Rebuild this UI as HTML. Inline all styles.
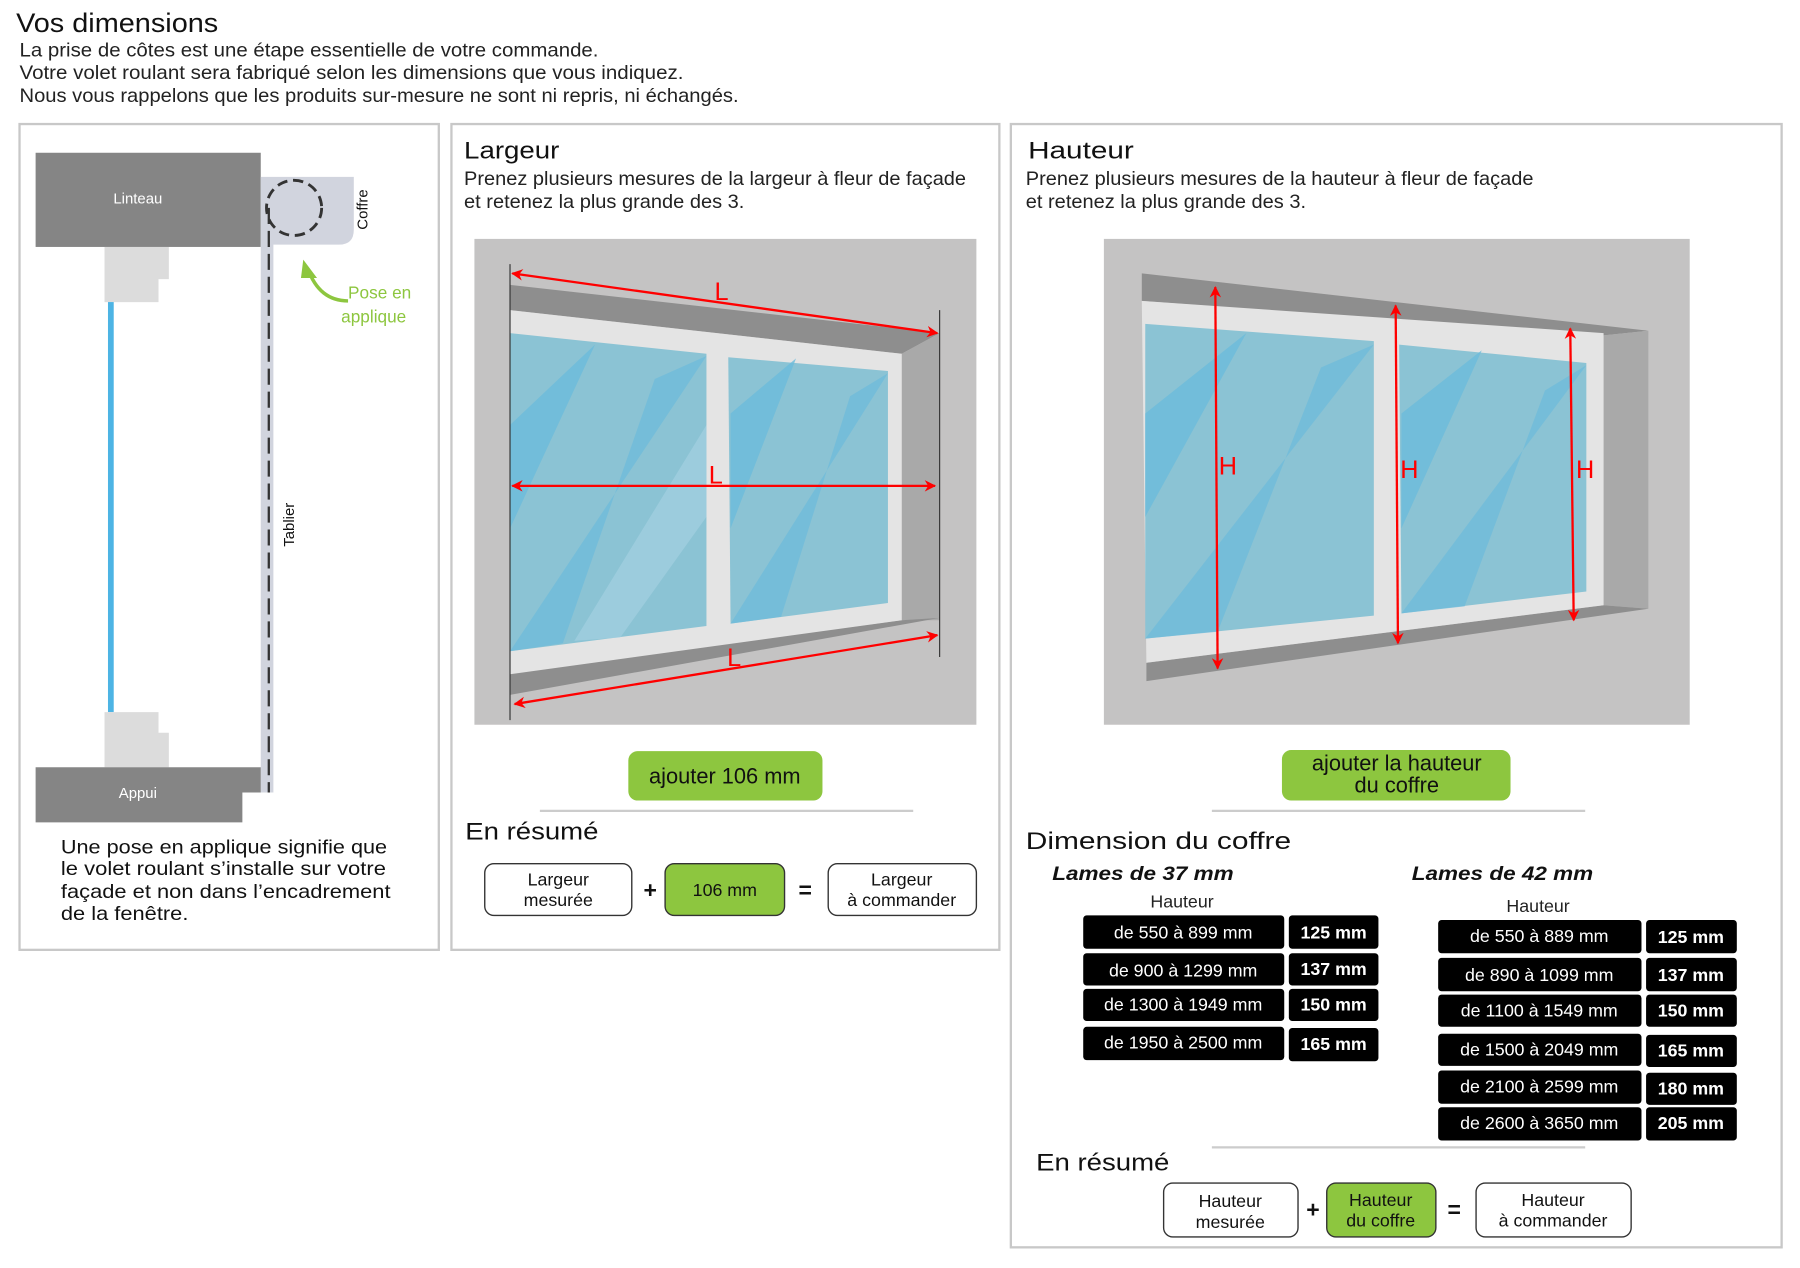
<!DOCTYPE html>
<html><head><meta charset="utf-8"><style>
html,body{margin:0;padding:0;background:#fff;}
svg{display:block;}
text{font-family:"Liberation Sans",sans-serif;}
</style></head><body>
<svg width="1800" height="1268" viewBox="0 0 1567 1104" preserveAspectRatio="none" xmlns="http://www.w3.org/2000/svg">
<defs>
<marker id="ar" viewBox="0 0 10 10" refX="9" refY="5" markerWidth="5" markerHeight="5" orient="auto-start-reverse"><path d="M0,0 L10,5 L0,10 L3,5 Z" fill="#f00"/></marker>
</defs>
<rect width="1567" height="1104" fill="#fff"/>
<text x="14" y="28" font-size="23" fill="#111" textLength="176" lengthAdjust="spacingAndGlyphs">Vos dimensions</text>
<text x="17" y="49" font-size="16.5" fill="#222" textLength="504" lengthAdjust="spacingAndGlyphs">La prise de côtes est une étape essentielle de votre commande.</text>
<text x="17" y="69" font-size="16.5" fill="#222" textLength="578" lengthAdjust="spacingAndGlyphs">Votre volet roulant sera fabriqué selon les dimensions que vous indiquez.</text>
<text x="17" y="89" font-size="16.5" fill="#222" textLength="626" lengthAdjust="spacingAndGlyphs">Nous vous rappelons que les produits sur-mesure ne sont ni repris, ni échangés.</text>

<rect x="17" y="108" width="365" height="719" fill="none" stroke="#c8c8c8" stroke-width="2"/>
<rect x="393" y="108" width="477" height="719" fill="none" stroke="#c8c8c8" stroke-width="2"/>
<rect x="880" y="108" width="671" height="978" fill="none" stroke="#c8c8c8" stroke-width="2"/>

<!-- panel 1 -->
<rect x="31" y="133" width="196" height="82" fill="#858585"/>
<text x="120" y="177" font-size="13" fill="#fff" text-anchor="middle">Linteau</text>
<path d="M229,154 H308 V200 Q308,213 295,213 H238 V690 H227 V154 Z" fill="#d1d4de"/>
<circle cx="256" cy="181" r="24" fill="none" stroke="#333" stroke-width="2.5" stroke-dasharray="9,5"/>
<line x1="234" y1="181" x2="234" y2="690" stroke="#333" stroke-width="2" stroke-dasharray="14,6"/>
<text transform="translate(320,200) rotate(-90)" font-size="13" fill="#111">Coffre</text>
<text transform="translate(256,476) rotate(-90)" font-size="13" fill="#111">Tablier</text>
<path d="M303,262 Q278,262 268,234" fill="none" stroke="#8dc63f" stroke-width="3"/>
<path d="M264,226 L276,242 L262,242 Z" fill="#8dc63f"/>
<text x="303" y="260" font-size="15" fill="#8dc63f">Pose en</text>
<text x="297" y="281" font-size="15" fill="#8dc63f">applique</text>
<path d="M91,215 H147 V243 H138 V263 H91 Z" fill="#dcdcdc"/>
<rect x="94" y="263" width="5" height="357" fill="#4db4e4"/>
<path d="M91,620 H138 V638 H147 V668 H91 Z" fill="#dcdcdc"/>
<path d="M31,668 H227 V690 H211 V716 H31 Z" fill="#858585"/>
<text x="120" y="695" font-size="13" fill="#fff" text-anchor="middle">Appui</text>
<g font-size="17" fill="#111" lengthAdjust="spacingAndGlyphs">
<text x="53" y="743" textLength="284" lengthAdjust="spacingAndGlyphs">Une pose en applique signifie que</text>
<text x="53" y="762" textLength="283" lengthAdjust="spacingAndGlyphs">le volet roulant s’installe sur votre</text>
<text x="53" y="782" textLength="287" lengthAdjust="spacingAndGlyphs">façade et non dans l’encadrement</text>
<text x="53" y="801" textLength="111" lengthAdjust="spacingAndGlyphs">de la fenêtre.</text>
</g>

<!-- panel 2 -->
<text x="404" y="138" font-size="21" fill="#111" textLength="83" lengthAdjust="spacingAndGlyphs">Largeur</text>
<text x="404" y="161" font-size="16.5" fill="#222" textLength="437" lengthAdjust="spacingAndGlyphs">Prenez plusieurs mesures de la largeur à fleur de façade</text>
<text x="404" y="181" font-size="16.5" fill="#222" textLength="244" lengthAdjust="spacingAndGlyphs">et retenez la plus grande des 3.</text>
<rect x="413" y="208" width="437" height="423" fill="#c4c3c3"/>
<polygon points="444,248 818,290 785,308 444,270" fill="#8e8e8e"/>
<polygon points="785,308 818,290 818,540 785,540" fill="#a9a9a9"/>
<polygon points="444,585 785,540 818,538 444,605" fill="#8e8e8e"/>
<polygon points="444,270 785,308 785,540 444,587" fill="#e4e4e4"/>
<polygon points="444,290 615,308 615,545 444,567" fill="#8bc3d4"/>
<polygon points="634,311 773,323 773,525 636,543" fill="#8bc3d4"/>
<polygon points="444,370 518,300 444,460" fill="#6cbbdb" opacity=".8"/>
<polygon points="444,567 615,310 570,330 490,560" fill="#6cbbdb" opacity=".7"/>
<polygon points="500,558 615,370 615,450 540,555" fill="#a8d2e2" opacity=".6"/>
<polygon points="636,360 693,312 636,460" fill="#6cbbdb" opacity=".8"/>
<polygon points="636,543 773,325 740,345 680,537" fill="#6cbbdb" opacity=".7"/>
<line x1="444" y1="230" x2="444" y2="627" stroke="#333" stroke-width="1"/>
<line x1="818" y1="270" x2="818" y2="572" stroke="#333" stroke-width="1"/>
<line x1="446" y1="238" x2="816" y2="290" stroke="#f00" stroke-width="2" marker-start="url(#ar)" marker-end="url(#ar)"/>
<line x1="446" y1="423" x2="814" y2="423" stroke="#f00" stroke-width="2" marker-start="url(#ar)" marker-end="url(#ar)"/>
<line x1="448" y1="613" x2="816" y2="553" stroke="#f00" stroke-width="2" marker-start="url(#ar)" marker-end="url(#ar)"/>
<text x="622" y="261" font-size="22" fill="#f00">L</text>
<text x="617" y="421" font-size="22" fill="#f00">L</text>
<text x="633" y="580" font-size="22" fill="#f00">L</text>
<rect x="547" y="654" width="169" height="43" rx="8" fill="#8dc63f"/>
<text x="631" y="682" font-size="19" fill="#111" text-anchor="middle">ajouter 106 mm</text>
<line x1="470" y1="706" x2="795" y2="706" stroke="#ccc" stroke-width="2"/>
<text x="405" y="731" font-size="21" fill="#111" textLength="116" lengthAdjust="spacingAndGlyphs">En résumé</text>
<rect x="422" y="752" width="128" height="45" rx="8" fill="#fff" stroke="#333" stroke-width="1.2"/>
<text x="486" y="771" font-size="15.5" text-anchor="middle" fill="#111">Largeur</text>
<text x="486" y="789" font-size="15.5" text-anchor="middle" fill="#111">mesurée</text>
<text x="566" y="782" font-size="20" font-weight="bold" text-anchor="middle" fill="#111">+</text>
<rect x="579" y="752" width="104" height="45" rx="8" fill="#8dc63f" stroke="#333" stroke-width="1.2"/>
<text x="631" y="780" font-size="15.5" text-anchor="middle" fill="#111">106 mm</text>
<text x="701" y="782" font-size="20" font-weight="bold" text-anchor="middle" fill="#111">=</text>
<rect x="721" y="752" width="129" height="45" rx="8" fill="#fff" stroke="#333" stroke-width="1.2"/>
<text x="785" y="771" font-size="15.5" text-anchor="middle" fill="#111">Largeur</text>
<text x="785" y="789" font-size="15.5" text-anchor="middle" fill="#111">à commander</text>

<!-- panel 3 -->
<text x="895" y="138" font-size="21" fill="#111" textLength="92" lengthAdjust="spacingAndGlyphs">Hauteur</text>
<text x="893" y="161" font-size="16.5" fill="#222" textLength="442" lengthAdjust="spacingAndGlyphs">Prenez plusieurs mesures de la hauteur à fleur de façade</text>
<text x="893" y="181" font-size="16.5" fill="#222" textLength="244" lengthAdjust="spacingAndGlyphs">et retenez la plus grande des 3.</text>
<rect x="961" y="208" width="510" height="423" fill="#c4c3c3"/>
<polygon points="994,238 1435,288 1396,292 994,262" fill="#8e8e8e"/>
<polygon points="1396,292 1435,288 1435,530 1396,527" fill="#a9a9a9"/>
<polygon points="998,577 1396,527 1435,530 998,593" fill="#8e8e8e"/>
<polygon points="994,262 1396,290 1396,527 998,577" fill="#e4e4e4"/>
<polygon points="997,282 1196,297 1196,536 997,556" fill="#8bc3d4"/>
<polygon points="1218,300 1381,316 1381,515 1220,534" fill="#8bc3d4"/>
<polygon points="997,360 1085,290 997,450" fill="#6cbbdb" opacity=".8"/>
<polygon points="997,556 1196,300 1150,320 1060,550" fill="#6cbbdb" opacity=".7"/>
<polygon points="1220,360 1290,305 1220,460" fill="#6cbbdb" opacity=".8"/>
<polygon points="1220,534 1381,318 1345,340 1275,528" fill="#6cbbdb" opacity=".7"/>
<line x1="1058" y1="250" x2="1060" y2="582" stroke="#f00" stroke-width="2" marker-start="url(#ar)" marker-end="url(#ar)"/>
<line x1="1215" y1="266" x2="1217" y2="560" stroke="#f00" stroke-width="2" marker-start="url(#ar)" marker-end="url(#ar)"/>
<line x1="1367" y1="286" x2="1370" y2="540" stroke="#f00" stroke-width="2" marker-start="url(#ar)" marker-end="url(#ar)"/>
<text x="1061" y="413" font-size="22" fill="#f00">H</text>
<text x="1219" y="416" font-size="22" fill="#f00">H</text>
<text x="1372" y="416" font-size="22" fill="#f00">H</text>
<rect x="1116" y="653" width="199" height="44" rx="8" fill="#8dc63f"/>
<text x="1216" y="671" font-size="19" fill="#111" text-anchor="middle">ajouter la hauteur</text>
<text x="1216" y="690" font-size="19" fill="#111" text-anchor="middle">du coffre</text>
<line x1="1055" y1="706" x2="1380" y2="706" stroke="#ccc" stroke-width="2"/>
<text x="893" y="739" font-size="21" fill="#111" textLength="231" lengthAdjust="spacingAndGlyphs">Dimension du coffre</text>
<text x="916" y="766" font-size="17" font-style="italic" font-weight="bold" fill="#111" textLength="158" lengthAdjust="spacingAndGlyphs">Lames de 37 mm</text>
<text x="1229" y="766" font-size="17" font-style="italic" font-weight="bold" fill="#111" textLength="158" lengthAdjust="spacingAndGlyphs">Lames de 42 mm</text>
<text x="1029" y="790" font-size="15.5" text-anchor="middle" fill="#222">Hauteur</text>
<text x="1339" y="794" font-size="15.5" text-anchor="middle" fill="#222">Hauteur</text>
<g font-size="15.5" fill="#fff" text-anchor="middle">
<rect x="943" y="797" width="175" height="29" rx="3" fill="#000"/><rect x="1122" y="797" width="78" height="29" rx="3" fill="#000"/>
<text x="1030" y="817">de 550 à 899 mm</text><text x="1161" y="817" font-weight="bold">125 mm</text>
<rect x="943" y="830" width="175" height="28" rx="3" fill="#000"/><rect x="1122" y="830" width="78" height="28" rx="3" fill="#000"/>
<text x="1030" y="850">de 900 à 1299 mm</text><text x="1161" y="849" font-weight="bold">137 mm</text>
<rect x="943" y="861" width="175" height="28" rx="3" fill="#000"/><rect x="1122" y="861" width="78" height="28" rx="3" fill="#000"/>
<text x="1030" y="880">de 1300 à 1949 mm</text><text x="1161" y="880" font-weight="bold">150 mm</text>
<rect x="943" y="894" width="175" height="29" rx="3" fill="#000"/><rect x="1122" y="895" width="78" height="29" rx="3" fill="#000"/>
<text x="1030" y="913">de 1950 à 2500 mm</text><text x="1161" y="914" font-weight="bold">165 mm</text>

<rect x="1252" y="801" width="177" height="29" rx="3" fill="#000"/><rect x="1433" y="801" width="79" height="29" rx="3" fill="#000"/>
<text x="1340" y="820">de 550 à 889 mm</text><text x="1472" y="821" font-weight="bold">125 mm</text>
<rect x="1252" y="834" width="177" height="29" rx="3" fill="#000"/><rect x="1433" y="834" width="79" height="29" rx="3" fill="#000"/>
<text x="1340" y="854">de 890 à 1099 mm</text><text x="1472" y="854" font-weight="bold">137 mm</text>
<rect x="1252" y="866" width="177" height="28" rx="3" fill="#000"/><rect x="1433" y="866" width="79" height="28" rx="3" fill="#000"/>
<text x="1340" y="885">de 1100 à 1549 mm</text><text x="1472" y="885" font-weight="bold">150 mm</text>
<rect x="1252" y="900" width="177" height="28" rx="3" fill="#000"/><rect x="1433" y="901" width="79" height="28" rx="3" fill="#000"/>
<text x="1340" y="919">de 1500 à 2049 mm</text><text x="1472" y="920" font-weight="bold">165 mm</text>
<rect x="1252" y="932" width="177" height="29" rx="3" fill="#000"/><rect x="1433" y="934" width="79" height="28" rx="3" fill="#000"/>
<text x="1340" y="951">de 2100 à 2599 mm</text><text x="1472" y="953" font-weight="bold">180 mm</text>
<rect x="1252" y="964" width="177" height="29" rx="3" fill="#000"/><rect x="1433" y="964" width="79" height="29" rx="3" fill="#000"/>
<text x="1340" y="983">de 2600 à 3650 mm</text><text x="1472" y="983" font-weight="bold">205 mm</text>
</g>
<line x1="1055" y1="999" x2="1380" y2="999" stroke="#ccc" stroke-width="2"/>
<text x="902" y="1019" font-size="21" fill="#111" textLength="116" lengthAdjust="spacingAndGlyphs">En résumé</text>
<rect x="1013" y="1030" width="117" height="47" rx="8" fill="#fff" stroke="#333" stroke-width="1.2"/>
<text x="1071" y="1051" font-size="15.5" text-anchor="middle" fill="#111">Hauteur</text>
<text x="1071" y="1069" font-size="15.5" text-anchor="middle" fill="#111">mesurée</text>
<text x="1143" y="1060" font-size="20" font-weight="bold" text-anchor="middle" fill="#111">+</text>
<rect x="1155" y="1030" width="95" height="47" rx="8" fill="#8dc63f" stroke="#333" stroke-width="1.2"/>
<text x="1202" y="1050" font-size="15.5" text-anchor="middle" fill="#111">Hauteur</text>
<text x="1202" y="1068" font-size="15.5" text-anchor="middle" fill="#111">du coffre</text>
<text x="1266" y="1060" font-size="20" font-weight="bold" text-anchor="middle" fill="#111">=</text>
<rect x="1285" y="1030" width="135" height="47" rx="8" fill="#fff" stroke="#333" stroke-width="1.2"/>
<text x="1352" y="1050" font-size="15.5" text-anchor="middle" fill="#111">Hauteur</text>
<text x="1352" y="1068" font-size="15.5" text-anchor="middle" fill="#111">à commander</text>
</svg>
</body></html>
